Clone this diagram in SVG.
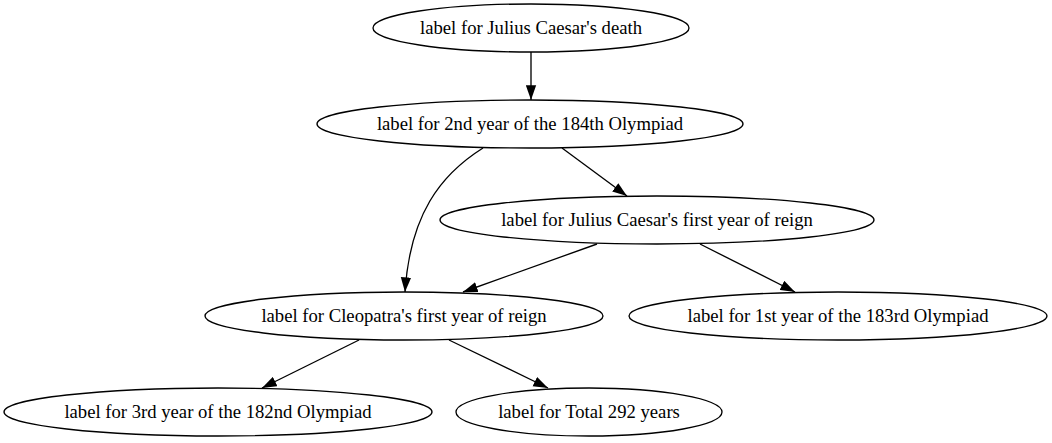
<svg xmlns="http://www.w3.org/2000/svg" width="1052" height="443" viewBox="0 0 1052 443">
<style>
.n ellipse{fill:none;stroke:#000;stroke-width:1.33}
.n text{font-family:"Liberation Serif","Times New Roman",serif;font-size:18.67px;fill:#000;text-anchor:middle}
#edges path{fill:none;stroke:#000;stroke-width:1.33;marker-end:url(#ah)}
</style>
<defs>
<marker id="ah" markerUnits="userSpaceOnUse" markerWidth="15" markerHeight="11" viewBox="0 -5 13.5 10" refX="13.3" refY="0" orient="auto">
<path d="M0,-4.7 L13.3,0 L0,4.7 z" fill="#000" stroke="none"/>
</marker>
</defs>
<rect width="1052" height="443" fill="#fff"/>
<g id="edges">
<path d="M531,52 L531,100"/>
<path d="M562,148 L627,196"/>
<path d="M483,148 C440,175 410,215 405,292"/>
<path d="M597,244 L463,292"/>
<path d="M700,244 L795,292"/>
<path d="M359,340 L262,388"/>
<path d="M449,340 L548,388"/>
</g>
<g id="n1" class="n"><ellipse cx="531" cy="28" rx="158" ry="24"/><text x="531" y="34">label for Julius Caesar's death</text></g>
<g id="n2" class="n"><ellipse cx="530" cy="124" rx="213" ry="24"/><text x="530" y="130">label for 2nd year of the 184th Olympiad</text></g>
<g id="n3" class="n"><ellipse cx="657" cy="220" rx="217" ry="24"/><text x="657" y="226">label for Julius Caesar's first year of reign</text></g>
<g id="n4" class="n"><ellipse cx="404" cy="316" rx="199" ry="24"/><text x="404" y="322">label for Cleopatra's first year of reign</text></g>
<g id="n5" class="n"><ellipse cx="838" cy="316" rx="209" ry="24"/><text x="838" y="322">label for 1st year of the 183rd Olympiad</text></g>
<g id="n6" class="n"><ellipse cx="218" cy="412" rx="214" ry="24"/><text x="218" y="418">label for 3rd year of the 182nd Olympiad</text></g>
<g id="n7" class="n"><ellipse cx="589" cy="412" rx="133" ry="24"/><text x="589" y="418">label for Total 292 years</text></g>
</svg>
